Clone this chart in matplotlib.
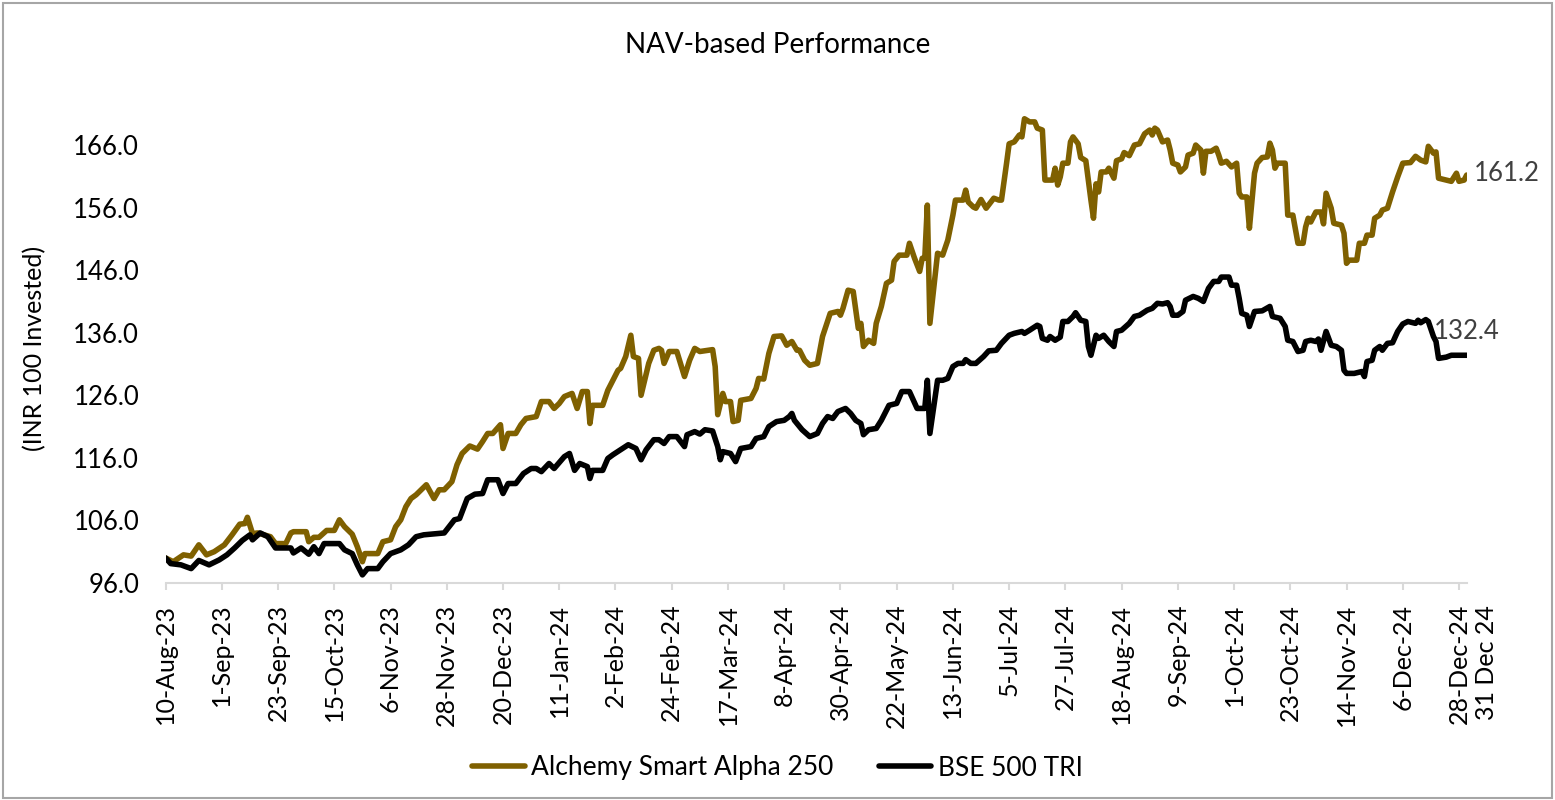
import pandas as pd
import numpy as np
import matplotlib
matplotlib.use('Agg')
import matplotlib.pyplot as plt
from matplotlib.ticker import FormatStrFormatter
from matplotlib.patches import Rectangle

plt.rcParams['font.family'] = ['Lato', 'DejaVu Sans']

# series values, x = days since 10-Aug-23
start_date = '2023-08-10'
series_names = ['Alchemy Smart Alpha 250', 'BSE 500 TRI']

fund_day = [
    0, 3, 7, 10, 13, 16, 19, 23, 26, 29,
    31, 32, 34, 36, 41, 43, 47, 49, 50, 55,
    56, 58, 60, 63, 66, 68, 70, 73, 75, 77,
    78, 83, 85, 88, 90, 92, 94, 96, 98, 100,
    102, 105, 107, 109, 112, 114, 116, 119, 122, 124,
    126, 128, 131, 132, 134, 137, 139, 141, 145, 147,
    150, 152, 154, 156, 159, 161, 163, 165, 166, 167,
    171, 173, 175, 177, 178, 180, 182, 183, 185, 186,
    189, 191, 193, 194, 195, 197, 200, 203, 205, 207,
    209, 214, 215, 216, 218, 219, 221, 222, 224, 225,
    229, 231, 232, 234, 236, 238, 241, 243, 245, 247,
    248, 250, 252, 255, 257, 260, 263, 264, 265, 267,
    269, 271, 272, 273, 275, 277, 278, 280, 282, 284,
    285, 287, 290, 291, 293, 295, 296, 297, 298, 299,
    302, 304, 306, 308, 309, 312, 313, 314, 316, 317,
    319, 321, 324, 326, 327, 329, 330, 332, 334, 335,
    336, 338, 340, 341, 343, 344, 347, 348, 349, 350,
    351, 353, 354, 355, 357, 358, 360, 362, 363, 364,
    365, 366, 368, 369, 371, 372, 374, 375, 377, 379,
    381, 383, 385, 386, 387, 388, 390, 392, 393, 394,
    396, 397, 399, 400, 402, 403, 405, 406, 407, 409,
    411, 412, 413, 415, 417, 419, 420, 421, 423, 424,
    426, 427, 429, 431, 432, 433, 434, 435, 438, 439,
    441, 443, 445, 446, 447, 448, 450, 452, 453, 454,
    456, 457, 460, 461, 462, 463, 466, 467, 469, 470,
    472, 473, 475, 476, 478, 480, 482, 484, 487, 489,
    491, 493, 494, 496, 497, 498, 501, 503, 505, 506,
    508, 509,
]
fund_nav = [
    100.0, 99.4, 100.5, 100.3, 102.1, 100.5, 101.0, 102.1, 103.7, 105.4,
    105.5, 106.5, 103.9, 104.0, 103.4, 102.3, 102.3, 104.0, 104.2, 104.2,
    102.6, 103.3, 103.3, 104.4, 104.4, 106.1, 105.0, 103.8, 101.8, 99.4,
    100.7, 100.7, 102.6, 102.9, 105.0, 106.1, 108.2, 109.5, 110.1, 110.9,
    111.7, 109.5, 110.9, 110.9, 112.2, 114.9, 116.7, 117.9, 117.4, 118.6,
    119.9, 119.9, 121.3, 117.5, 119.9, 119.9, 121.3, 122.3, 122.6, 125.0,
    125.0, 123.9, 124.7, 125.8, 126.3, 123.9, 126.6, 126.6, 121.5, 124.4,
    124.4, 126.8, 128.4, 130.0, 130.3, 132.2, 135.6, 132.2, 131.9, 126.0,
    131.1, 133.2, 133.5, 133.2, 131.1, 133.0, 133.0, 129.0, 131.6, 133.5,
    133.0, 133.3, 130.6, 122.9, 126.3, 125.0, 125.0, 121.8, 122.0, 125.2,
    125.5, 127.1, 128.7, 128.6, 132.7, 135.4, 135.5, 134.0, 134.6, 133.2,
    133.2, 131.6, 130.8, 131.1, 135.4, 139.1, 139.4, 138.8, 139.9, 142.8,
    142.6, 136.7, 137.5, 133.8, 134.8, 134.3, 137.5, 140.2, 143.9, 144.4,
    147.4, 148.4, 148.4, 150.3, 147.9, 145.8, 147.9, 147.9, 156.4, 137.5,
    148.7, 148.4, 150.8, 154.8, 157.2, 157.2, 158.8, 156.9, 156.1, 155.9,
    157.3, 155.9, 157.5, 157.2, 157.2, 163.1, 166.2, 166.5, 167.6, 167.3,
    170.2, 169.7, 169.7, 168.7, 168.4, 160.4, 160.4, 162.3, 159.6, 160.9,
    163.1, 163.1, 166.5, 167.3, 166.2, 164.0, 163.5, 157.2, 154.3, 159.8,
    158.5, 161.7, 161.7, 162.3, 160.7, 163.5, 163.8, 164.8, 164.3, 166.0,
    166.2, 167.8, 168.4, 167.6, 168.7, 168.4, 166.5, 166.8, 165.2, 163.1,
    162.8, 161.7, 162.5, 164.4, 164.7, 166.0, 165.2, 161.5, 165.0, 165.0,
    165.5, 164.4, 163.1, 163.4, 162.5, 163.1, 158.3, 157.7, 157.7, 152.7,
    161.5, 163.1, 164.0, 164.1, 166.3, 165.2, 162.3, 163.1, 163.1, 154.8,
    154.8, 150.3, 150.3, 152.9, 154.3, 153.7, 155.3, 155.3, 153.4, 158.3,
    155.9, 153.5, 153.2, 151.9, 147.1, 147.6, 147.6, 150.3, 150.3, 151.6,
    151.6, 154.3, 154.8, 155.6, 155.9, 158.5, 160.9, 163.1, 163.2, 164.2,
    163.6, 163.3, 165.8, 164.7, 164.9, 160.7, 160.4, 160.2, 161.5, 160.2,
    160.4, 161.2,
]

bench_day = [
    0, 2, 6, 10, 13, 17, 21, 24, 27, 30,
    33, 34, 37, 40, 43, 49, 50, 53, 56, 58,
    60, 62, 68, 70, 73, 75, 77, 79, 83, 85,
    88, 92, 95, 98, 101, 109, 113, 115, 118, 121,
    124, 126, 130, 132, 134, 137, 140, 143, 145, 147,
    150, 152, 156, 158, 160, 162, 165, 166, 167, 171,
    173, 175, 178, 181, 184, 186, 188, 191, 193, 195,
    197, 200, 203, 204, 207, 209, 211, 214, 216, 217,
    218, 221, 223, 225, 229, 231, 234, 236, 239, 242,
    244, 245, 246, 249, 252, 255, 257, 259, 261, 263,
    266, 268, 270, 272, 273, 275, 278, 280, 282, 283,
    286, 288, 291, 294, 297, 298, 299, 302, 304, 306,
    308, 310, 312, 313, 315, 317, 320, 322, 325, 327,
    330, 332, 335, 336, 338, 341, 342, 343, 345, 346,
    348, 350, 351, 353, 355, 356, 358, 360, 361, 362,
    364, 365, 367, 369, 371, 372, 374, 377, 379, 381,
    384, 386, 388, 390, 392, 393, 394, 396, 398, 399,
    402, 404, 406, 408, 410, 412, 413, 416, 417, 419,
    420, 421, 423, 424, 426, 429, 432, 433, 436, 438,
    439, 441, 443, 445, 446, 448, 450, 451, 452, 454,
    456, 458, 460, 461, 462, 465, 468, 469, 470, 472,
    473, 475, 476, 478, 480, 482, 484, 486, 489, 490,
    491, 493, 494, 496, 497, 498, 501, 503, 505, 507,
    509,
]
bench_nav = [
    100.0, 99.1, 98.9, 98.3, 99.6, 98.9, 99.7, 100.5, 101.6, 102.8,
    103.7, 102.9, 104.0, 103.4, 101.6, 101.6, 100.8, 101.6, 100.6, 101.8,
    100.7, 102.3, 102.3, 101.3, 100.7, 98.9, 97.3, 98.3, 98.3, 99.4,
    100.7, 101.3, 102.1, 103.4, 103.7, 104.0, 106.1, 106.3, 109.5, 110.2,
    110.3, 112.5, 112.5, 110.3, 111.9, 111.9, 113.5, 114.3, 114.3, 113.8,
    115.1, 114.3, 116.2, 116.7, 114.0, 115.1, 114.6, 112.7, 114.0, 114.0,
    115.9, 116.5, 117.3, 118.1, 117.5, 115.7, 117.3, 118.9, 118.9, 118.3,
    119.4, 119.4, 117.8, 119.7, 120.2, 119.8, 120.5, 120.3, 117.8, 115.7,
    117.0, 116.7, 115.4, 117.5, 117.8, 119.1, 119.4, 121.0, 121.8, 122.0,
    122.6, 123.1, 122.0, 120.5, 119.4, 119.9, 121.5, 122.6, 122.3, 123.4,
    123.9, 123.1, 122.0, 121.5, 119.7, 120.5, 120.7, 122.0, 123.6, 124.4,
    124.7, 126.6, 126.6, 123.9, 123.9, 128.4, 119.9, 128.4, 128.4, 128.7,
    130.6, 131.1, 131.1, 131.7, 131.1, 131.1, 132.2, 133.1, 133.2, 134.3,
    135.6, 135.9, 136.2, 135.9, 136.4, 137.2, 137.0, 135.1, 134.8, 135.4,
    134.8, 135.3, 137.8, 137.8, 138.6, 139.2, 138.0, 137.8, 133.8, 132.4,
    135.6, 135.1, 135.6, 134.6, 133.8, 136.2, 136.4, 137.5, 138.6, 138.8,
    139.6, 139.9, 140.7, 140.6, 140.8, 140.2, 138.8, 138.8, 139.4, 141.2,
    141.8, 141.5, 141.0, 143.1, 144.2, 144.2, 144.9, 144.9, 143.6, 143.6,
    141.5, 139.1, 138.8, 137.0, 139.4, 139.5, 140.2, 138.6, 138.3, 137.0,
    134.8, 134.6, 133.0, 133.2, 134.6, 134.8, 134.6, 135.0, 133.2, 136.2,
    134.0, 133.8, 133.2, 130.0, 129.5, 129.5, 129.8, 129.0, 131.4, 131.6,
    133.2, 133.8, 133.2, 134.3, 134.4, 136.2, 137.4, 137.8, 137.5, 138.0,
    137.6, 138.1, 137.8, 135.4, 134.6, 131.9, 132.1, 132.4, 132.4, 132.4,
    132.4,
]

x_tick_labels = ['10-Aug-23', '1-Sep-23', '23-Sep-23', '15-Oct-23', '6-Nov-23',
                 '28-Nov-23', '20-Dec-23', '11-Jan-24', '2-Feb-24', '24-Feb-24',
                 '17-Mar-24', '8-Apr-24', '30-Apr-24', '22-May-24', '13-Jun-24',
                 '5-Jul-24', '27-Jul-24', '18-Aug-24', '9-Sep-24', '1-Oct-24',
                 '23-Oct-24', '14-Nov-24', '6-Dec-24', '28-Dec-24']
end_label = '31 Dec 24'
y_ticks = [96, 106, 116, 126, 136, 146, 156, 166]

gold = '#7F6000'
grey_axis = '#D9D9D9'

start = pd.Timestamp(start_date)
fund_x = start + pd.to_timedelta(fund_day, unit='D')
bench_x = start + pd.to_timedelta(bench_day, unit='D')
tick_dates = pd.to_datetime(x_tick_labels, format='%d-%b-%y')
end_date = bench_x[-1]

fig = plt.figure(figsize=(15.55, 8), dpi=100)
ax = fig.add_axes([0.1065, 0.27125, 0.8367, 0.594375])

ax.plot(fund_x, fund_nav, color=gold, lw=4, solid_joinstyle='round',
        solid_capstyle='round', label=series_names[0])
ax.plot(bench_x, bench_nav, color='black', lw=4, solid_joinstyle='round',
        solid_capstyle='round', label=series_names[1])

ax.set_xlim(start, end_date)
ax.set_ylim(96, 172)
ax.set_yticks(y_ticks)
ax.yaxis.set_major_formatter(FormatStrFormatter('%.1f'))
ax.tick_params(axis='y', length=0, pad=19, labelsize=18.5)

ax.set_xticks(tick_dates)
ax.set_xticklabels(x_tick_labels, rotation=90)
ax.tick_params(axis='x', length=5, width=1.5, color=grey_axis, pad=10, labelsize=18)

for s in ['left', 'right', 'top']:
    ax.spines[s].set_visible(False)
ax.spines['bottom'].set_color(grey_axis)
ax.spines['bottom'].set_linewidth(1.5)

# extra end-date label beside the last tick
ax.annotate(end_label, xy=(end_date, 0), xycoords=('data', 'axes fraction'),
            xytext=(14, -16), textcoords='offset points', rotation=90,
            ha='center', va='top', fontsize=18)

# last-value labels
ax.annotate(f'{fund_nav[-1]:.1f}', xy=(fund_x[-1], fund_nav[-1]),
            xytext=(5, 1), textcoords='offset points', ha='left', va='center',
            fontsize=18.5, color='#404040')
ax.annotate(f'{bench_nav[-1]:.1f}', xy=(bench_x[-1], bench_nav[-1]),
            xytext=(0, 8), textcoords='offset points', ha='center', va='bottom',
            fontsize=18.5, color='#404040')

fig.text(0.5, 0.944, 'NAV-based Performance', ha='center', va='center', fontsize=20)
fig.text(0.0225, 0.565, '(INR 100 Invested)', rotation=90, ha='center', va='center',
         fontsize=18)

fig.legend(loc='center', bbox_to_anchor=(0.5, 0.04), ncol=2, frameon=False,
           fontsize=19, handlelength=2.0, handletextpad=0.25, columnspacing=1.7)

fig.patches.append(Rectangle((0.002, 0.002), 0.996, 0.994, transform=fig.transFigure,
                             fill=False, edgecolor='#A6A6A6', lw=1.5))

fig.savefig('out.png', dpi=100)
